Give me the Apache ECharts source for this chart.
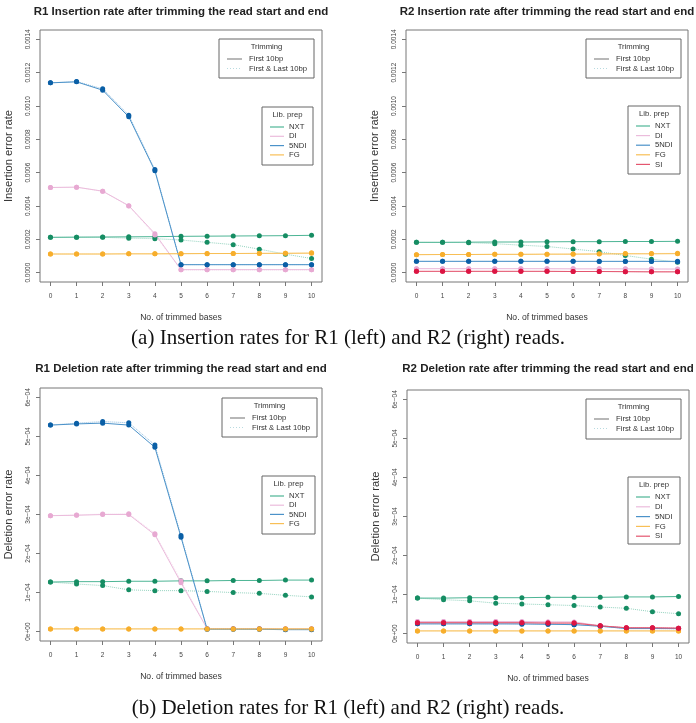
<!DOCTYPE html>
<html>
<head>
<meta charset="utf-8">
<script src="https://cdn.jsdelivr.net/npm/echarts@6/dist/echarts.min.js"></script>
<style>
html, body { margin: 0; padding: 0; background: #fff; }
#main { width: 696px; height: 723px; }
</style>
</head>
<body>
<div id="main"></div>
<script>
// no. of trimmed bases
var bases = [0, 1, 2, 3, 4, 5, 6, 7, 8, 9, 10];

var insTicks = [0, 0.0002, 0.0004, 0.0006, 0.0008, 0.0010, 0.0012, 0.0014];
var insTickLabels = ['0.0000', '0.0002', '0.0004', '0.0006', '0.0008', '0.0010', '0.0012', '0.0014'];
var delTicks = [0, 0.0001, 0.0002, 0.0003, 0.0004, 0.0005, 0.0006];
var delTickLabels = ['0e+00', '1e\u221204', '2e\u221204', '3e\u221204', '4e\u221204', '5e\u221204', '6e\u221204'];

// R1 insertion - first 10bp
var r1InsNXT  = [0.000212, 0.000213, 0.000214, 0.000215, 0.000216, 0.000218, 0.000219, 0.000220, 0.000221, 0.000222, 0.000224];
var r1InsDI   = [0.000511, 0.000513, 0.000489, 0.000402, 0.000234, 0.000018, 0.000018, 0.000018, 0.000018, 0.000018, 0.000018];
var r1InsNDI  = [0.001139, 0.001145, 0.001095, 0.000935, 0.000611, 0.000048, 0.000048, 0.000048, 0.000048, 0.000048, 0.000048];
var r1InsFG   = [0.000112, 0.000112, 0.000112, 0.000113, 0.000113, 0.000114, 0.000115, 0.000115, 0.000116, 0.000116, 0.000117];
// R1 insertion - first & last 10bp
var r1InsNXT2 = [0.000212, 0.000213, 0.000212, 0.000207, 0.000204, 0.000196, 0.000182, 0.000168, 0.000141, 0.000111, 0.000085];
var r1InsDI2  = [0.000511, 0.000513, 0.000488, 0.000400, 0.000226, 0.000017, 0.000017, 0.000017, 0.000017, 0.000017, 0.000017];
var r1InsNDI2 = [0.001139, 0.001147, 0.001103, 0.000945, 0.000619, 0.000048, 0.000048, 0.000048, 0.000048, 0.000048, 0.000048];
var r1InsFG2  = [0.000112, 0.000112, 0.000112, 0.000113, 0.000113, 0.000113, 0.000114, 0.000115, 0.000115, 0.000117, 0.000119];

// R2 insertion - first 10bp
var r2InsNXT  = [0.000182, 0.000182, 0.000183, 0.000184, 0.000184, 0.000185, 0.000186, 0.000186, 0.000187, 0.000187, 0.000188];
var r2InsDI   = [0.000024, 0.000024, 0.000024, 0.000024, 0.000024, 0.000024, 0.000023, 0.000023, 0.000023, 0.000022, 0.000022];
var r2InsNDI  = [0.000068, 0.000068, 0.000068, 0.000068, 0.000068, 0.000068, 0.000068, 0.000068, 0.000068, 0.000068, 0.000068];
var r2InsFG   = [0.000108, 0.000109, 0.000109, 0.000110, 0.000110, 0.000111, 0.000111, 0.000112, 0.000113, 0.000113, 0.000114];
var r2InsSI   = [0.000008, 0.000008, 0.000008, 0.000008, 0.000008, 0.000008, 0.000007, 0.000007, 0.000006, 0.000005, 0.000005];
// R2 insertion - first & last 10bp
var r2InsNXT2 = [0.000182, 0.000182, 0.000180, 0.000174, 0.000165, 0.000157, 0.000142, 0.000126, 0.000103, 0.000081, 0.000063];
var r2InsDI2  = [0.000024, 0.000024, 0.000024, 0.000024, 0.000024, 0.000023, 0.000023, 0.000023, 0.000022, 0.000022, 0.000021];
var r2InsNDI2 = [0.000068, 0.000068, 0.000068, 0.000068, 0.000068, 0.000068, 0.000068, 0.000067, 0.000067, 0.000067, 0.000066];
var r2InsFG2  = [0.000108, 0.000109, 0.000109, 0.000110, 0.000110, 0.000111, 0.000112, 0.000114, 0.000115, 0.000115, 0.000116];
var r2InsSI2  = [0.000008, 0.000008, 0.000008, 0.000008, 0.000008, 0.000008, 0.000007, 0.000007, 0.000006, 0.000005, 0.000005];

// R1 deletion - first 10bp
var r1DelNXT  = [0.000127, 0.000128, 0.000128, 0.000129, 0.000129, 0.000130, 0.000130, 0.000131, 0.000131, 0.000132, 0.000132];
var r1DelDI   = [0.000297, 0.000298, 0.000300, 0.000300, 0.000248, 0.000125, 0.000008, 0.000008, 0.000008, 0.000007, 0.000007];
var r1DelNDI  = [0.000529, 0.000532, 0.000534, 0.000529, 0.000472, 0.000242, 0.000006, 0.000006, 0.000006, 0.000005, 0.000005];
var r1DelFG   = [0.000007, 0.000007, 0.000007, 0.000007, 0.000007, 0.000007, 0.000007, 0.000007, 0.000007, 0.000007, 0.000007];
// R1 deletion - first & last 10bp
var r1DelNXT2 = [0.000127, 0.000122, 0.000118, 0.000107, 0.000105, 0.000105, 0.000103, 0.000100, 0.000098, 0.000093, 0.000089];
var r1DelDI2  = [0.000297, 0.000299, 0.000301, 0.000302, 0.000251, 0.000130, 0.000008, 0.000008, 0.000008, 0.000008, 0.000008];
var r1DelNDI2 = [0.000529, 0.000534, 0.000538, 0.000535, 0.000478, 0.000246, 0.000007, 0.000007, 0.000007, 0.000006, 0.000006];
var r1DelFG2  = [0.000007, 0.000007, 0.000007, 0.000007, 0.000007, 0.000007, 0.000007, 0.000007, 0.000007, 0.000007, 0.000007];

// R2 deletion - first 10bp
var r2DelNXT  = [0.000091, 0.000091, 0.000092, 0.000092, 0.000092, 0.000093, 0.000093, 0.000093, 0.000094, 0.000094, 0.000095];
var r2DelDI   = [0.000031, 0.000031, 0.000031, 0.000031, 0.000031, 0.000030, 0.000030, 0.000020, 0.000015, 0.000015, 0.000014];
var r2DelNDI  = [0.000025, 0.000025, 0.000025, 0.000025, 0.000025, 0.000024, 0.000023, 0.000019, 0.000013, 0.000013, 0.000013];
var r2DelFG   = [0.000007, 0.000007, 0.000007, 0.000007, 0.000007, 0.000007, 0.000007, 0.000007, 0.000007, 0.000007, 0.000007];
var r2DelSI   = [0.000028, 0.000028, 0.000028, 0.000028, 0.000028, 0.000027, 0.000027, 0.000020, 0.000015, 0.000015, 0.000014];
// R2 deletion - first & last 10bp
var r2DelNXT2 = [0.000091, 0.000087, 0.000084, 0.000078, 0.000076, 0.000074, 0.000072, 0.000068, 0.000065, 0.000056, 0.000051];
var r2DelDI2  = [0.000031, 0.000031, 0.000031, 0.000031, 0.000030, 0.000030, 0.000029, 0.000020, 0.000015, 0.000014, 0.000014];
var r2DelNDI2 = [0.000025, 0.000025, 0.000025, 0.000025, 0.000024, 0.000024, 0.000023, 0.000019, 0.000013, 0.000013, 0.000012];
var r2DelFG2  = [0.000007, 0.000007, 0.000007, 0.000007, 0.000007, 0.000007, 0.000007, 0.000007, 0.000007, 0.000007, 0.000007];
var r2DelSI2  = [0.000028, 0.000028, 0.000028, 0.000028, 0.000028, 0.000027, 0.000027, 0.000020, 0.000015, 0.000015, 0.000014];

// colours: [point, line]
var libColors = {
    'NXT':  ['#168d63', '#4db595'],
    'DI':   ['#e7a9d2', '#ebbcdc'],
    '5NDI': ['#0a5fa6', '#4b92c9'],
    'FG':   ['#f7ae2c', '#f8bf56'],
    'SI':   ['#dc1543', '#e4566f']
};

var FONT = '"Liberation Sans", Arial, sans-serif';
var chart = echarts.init(document.getElementById('main'));

var panels = [
    {title: 'R1 Insertion rate after trimming the read start and end', yname: 'Insertion error rate',
     grid: {left: 40, top: 30, width: 282, height: 252}, ins: true,
     trimBox: [219, 39, 95, 39], libBox: [262, 107, 51, 58], libGap: 9.3,
     libs: [['NXT', r1InsNXT, r1InsNXT2], ['DI', r1InsDI, r1InsDI2], ['5NDI', r1InsNDI, r1InsNDI2], ['FG', r1InsFG, r1InsFG2]]},
    {title: 'R2 Insertion rate after trimming the read start and end', yname: 'Insertion error rate',
     grid: {left: 406, top: 30, width: 282, height: 252}, ins: true,
     trimBox: [586, 39, 95, 39], libBox: [628, 106, 52, 68], libGap: 9.6,
     libs: [['NXT', r2InsNXT, r2InsNXT2], ['DI', r2InsDI, r2InsDI2], ['5NDI', r2InsNDI, r2InsNDI2], ['FG', r2InsFG, r2InsFG2], ['SI', r2InsSI, r2InsSI2]]},
    {title: 'R1 Deletion rate after trimming the read start and end', yname: 'Deletion error rate',
     grid: {left: 40, top: 388, width: 282, height: 253}, ins: false,
     trimBox: [222, 398, 95, 39], libBox: [262, 476, 53, 58], libGap: 9.2,
     libs: [['NXT', r1DelNXT, r1DelNXT2], ['DI', r1DelDI, r1DelDI2], ['5NDI', r1DelNDI, r1DelNDI2], ['FG', r1DelFG, r1DelFG2]]},
    {title: 'R2 Deletion rate after trimming the read start and end', yname: 'Deletion error rate',
     grid: {left: 407, top: 390, width: 282, height: 253}, ins: false,
     trimBox: [586, 399, 95, 40], libBox: [628, 477, 52, 67], libGap: 9.8,
     libs: [['NXT', r2DelNXT, r2DelNXT2], ['DI', r2DelDI, r2DelDI2], ['5NDI', r2DelNDI, r2DelNDI2], ['FG', r2DelFG, r2DelFG2], ['SI', r2DelSI, r2DelSI2]]}
];

var grids = [], xAxes = [], yAxes = [], series = [], titles = [], legends = [], graphics = [];

function pickLabel(ticks, labels) {
    return function (v) {
        for (var i = 0; i < ticks.length; i++) {
            if (Math.abs(ticks[i] - v) < 1e-12) return labels[i];
        }
        return '';
    };
}

panels.forEach(function (p, k) {
    var g = p.grid;
    grids.push({left: g.left, top: g.top, width: g.width, height: g.height, show: true,
        borderColor: '#777', borderWidth: 1, backgroundColor: 'transparent', outerBoundsMode: 'none'});
    xAxes.push({
        type: 'value', gridIndex: k, min: -0.4, max: 10.4, position: 'bottom',
        name: 'No. of trimmed bases', nameLocation: 'middle', nameGap: 31,
        nameTextStyle: {fontFamily: FONT, fontSize: 8.6, color: '#333'},
        axisLine: {show: false, onZero: false}, splitLine: {show: false},
        axisTick: {show: true, inside: false, customValues: bases, length: 4, lineStyle: {color: '#777'}},
        axisLabel: {customValues: bases, margin: 11, fontFamily: FONT, fontSize: 6.5, color: '#444'}
    });
    var ticks = p.ins ? insTicks : delTicks;
    var labels = p.ins ? insTickLabels : delTickLabels;
    var top = p.ins ? 0.0014 : 0.0006;
    yAxes.push({
        type: 'value', gridIndex: k, min: -top * 0.04, max: top * 1.04, position: 'left',
        name: p.yname, nameLocation: 'middle', nameGap: 26,
        nameTextStyle: {fontFamily: FONT, fontSize: 11.2, color: '#333'},
        axisLine: {show: false, onZero: false}, splitLine: {show: false},
        axisTick: {show: true, inside: false, customValues: ticks, length: 4, lineStyle: {color: '#777'}},
        axisLabel: {customValues: ticks, formatter: pickLabel(ticks, labels), rotate: 90, margin: 8,
            fontFamily: FONT, fontSize: 6.5, color: '#444'}
    });
    titles.push({
        text: p.title, left: g.left + g.width / 2, top: p.ins ? 6 : 363, textAlign: 'center', padding: 0,
        textStyle: {fontFamily: FONT, fontSize: 11.5, fontWeight: 'bold', color: '#222'}
    });

    p.libs.forEach(function (lib) {
        var c = libColors[lib[0]];
        [lib[1], lib[2]].forEach(function (vals, d) {
            series.push({
                name: lib[0], type: 'line', xAxisIndex: k, yAxisIndex: k,
                data: vals.map(function (v, i) { return [bases[i], v]; }),
                symbol: 'circle', symbolSize: 5, showSymbol: true,
                itemStyle: {color: c[0]},
                lineStyle: {color: c[1], width: 1, type: d ? 'dotted' : 'solid', opacity: d ? 0.6 : 1},
                emphasis: {disabled: true}, animation: false
            });
        });
    });

    // Lib. prep legend
    var lb = p.libBox;
    legends.push({
        orient: 'vertical', left: lb[0] + 8, top: lb[1] + 20 - p.libGap / 2, padding: 0, itemGap: 0,
        itemWidth: 14, itemHeight: 1.2, icon: 'rect', selectedMode: false,
        textStyle: {fontFamily: FONT, fontSize: 7.7, color: '#333', lineHeight: p.libGap},
        data: p.libs.map(function (lib) {
            return {name: lib[0], itemStyle: {color: libColors[lib[0]][1]}};
        })
    });
    graphics.push({type: 'rect', shape: {x: lb[0], y: lb[1], width: lb[2], height: lb[3]},
        style: {fill: 'none', stroke: '#666', lineWidth: 1}, z: 5});
    graphics.push({type: 'text', x: lb[0] + lb[2] / 2, y: lb[1] + 7.5,
        style: {text: 'Lib. prep', fontFamily: FONT, fontSize: 7.7, fill: '#333', align: 'center', verticalAlign: 'middle'}, z: 5});

    // Trimming legend
    var tb = p.trimBox;
    graphics.push({type: 'rect', shape: {x: tb[0], y: tb[1], width: tb[2], height: tb[3]},
        style: {fill: 'none', stroke: '#666', lineWidth: 1}, z: 5});
    graphics.push({type: 'text', x: tb[0] + tb[2] / 2, y: tb[1] + 8,
        style: {text: 'Trimming', fontFamily: FONT, fontSize: 7.7, fill: '#333', align: 'center', verticalAlign: 'middle'}, z: 5});
    [['First 10bp', 'solid', '#888'], ['First & Last 10bp', 'dotted', '#b9dbe0']].forEach(function (e, i) {
        var y = tb[1] + 20 + i * 9.5;
        graphics.push({type: 'line', shape: {x1: tb[0] + 8, y1: y, x2: tb[0] + 23, y2: y},
            style: {stroke: e[2], lineWidth: 1.2, lineDash: e[1] === 'dotted' ? [1, 2] : null}, z: 5});
        graphics.push({type: 'text', x: tb[0] + 30, y: y,
            style: {text: e[0], fontFamily: FONT, fontSize: 7.7, fill: '#333', verticalAlign: 'middle'}, z: 5});
    });
});

// sub-figure captions
var SERIF = '"Liberation Serif", "DejaVu Serif", serif';
titles.push({text: '(a) Insertion rates for R1 (left) and R2 (right) reads.', left: 348, top: 328, textAlign: 'center', padding: 0,
    textStyle: {fontFamily: SERIF, fontSize: 21, fontWeight: 'normal', color: '#111'}});
titles.push({text: '(b) Deletion rates for R1 (left) and R2 (right) reads.', left: 348, top: 698, textAlign: 'center', padding: 0,
    textStyle: {fontFamily: SERIF, fontSize: 21, fontWeight: 'normal', color: '#111'}});

chart.setOption({
    backgroundColor: '#fff',
    animation: false,
    title: titles,
    grid: grids,
    xAxis: xAxes,
    yAxis: yAxes,
    legend: legends,
    graphic: graphics,
    series: series
});
</script>
</body>
</html>
